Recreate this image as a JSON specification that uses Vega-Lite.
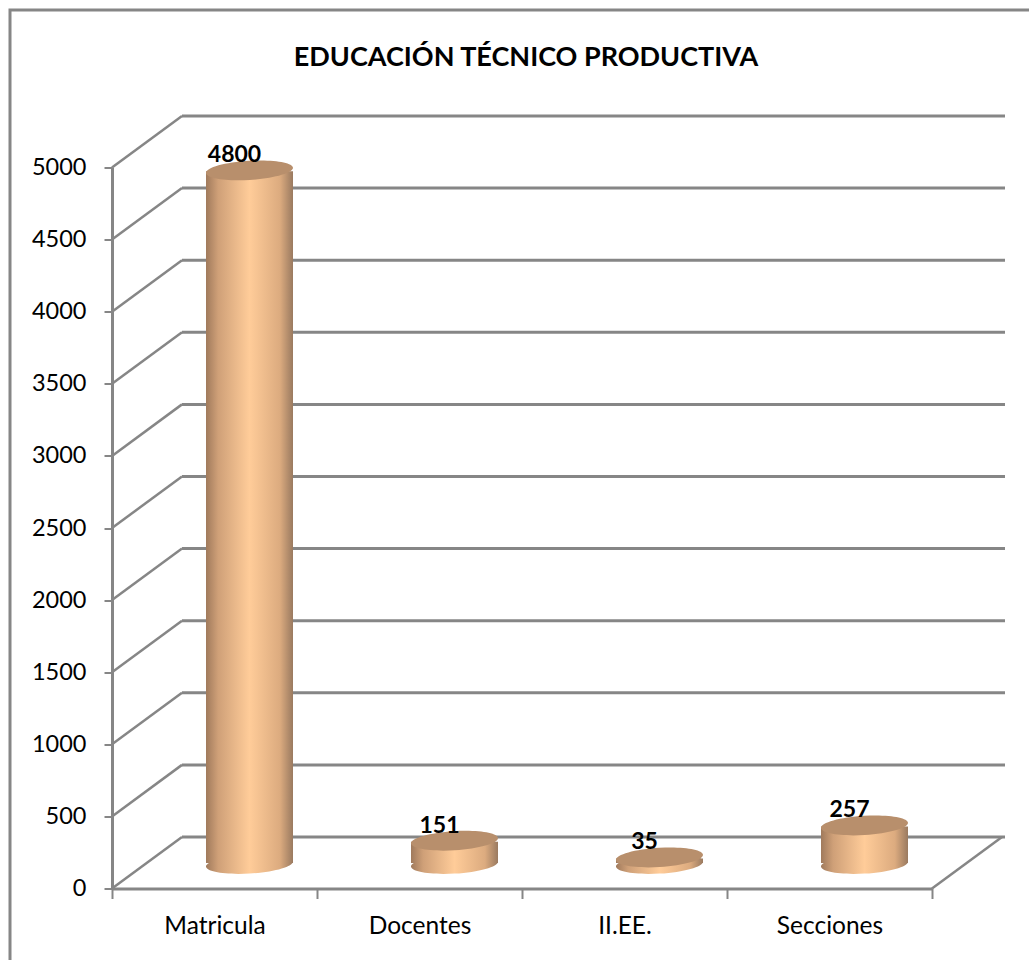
{
"$schema":"https://vega.github.io/schema/vega-lite/v6.json",
"width":820,"height":721,
"autosize":{"type":"none"},
"padding":{"left":112,"right":97,"top":167.5,"bottom":71.5},
"background":"#ffffff",
"view":{"stroke":null},
"title":{"text":"EDUCACIÓN TÉCNICO PRODUCTIVA","font":"Lato","fontSize":27,"fontWeight":"bold","color":"#000000","anchor":"middle","offset":-68,"dx":4},
"datasets":{
"categorias":[{"categoria":"Matricula","valor":4800},{"categoria":"Docentes","valor":151},{"categoria":"II.EE.","valor":35},{"categoria":"Secciones","valor":257}],
"marcas":[{"marca":0},{"marca":500},{"marca":1000},{"marca":1500},{"marca":2000},{"marca":2500},{"marca":3000},{"marca":3500},{"marca":4000},{"marca":4500},{"marca":5000}]
},
"layer":[
{"data":{"name":"marcas"},"mark":{"type":"rule","color":"#868686","strokeWidth":3,"xOffset":70,"x2Offset":73,"yOffset":-51.5},
 "encoding":{
  "x":{"datum":"Matricula","bandPosition":0,"type":"nominal","scale":{"domain":["Matricula","Docentes","II.EE.","Secciones"],"paddingInner":0,"paddingOuter":0},
   "axis":{"title":null,"labelAngle":0,"tickBand":"extent","labelFont":"Lato","labelFontSize":24.5,"labelColor":"#000000","labelPadding":16,"tickSize":10,"tickColor":"#868686","tickWidth":2,"domainColor":"#868686","domainWidth":3,"grid":false}},
  "x2":{"datum":"Secciones","bandPosition":1},
  "y":{"field":"marca","type":"quantitative","scale":{"domain":[0,5000],"nice":false},
   "axis":{"title":null,"values":[0,500,1000,1500,2000,2500,3000,3500,4000,4500,5000],"labelFont":"Lato","labelFontSize":23.5,"labelColor":"#000000","labelPadding":18,"tickSize":8,"tickColor":"#868686","tickWidth":2,"domainColor":"#868686","domainWidth":3,"grid":false,"format":"d"}}
 }},
{"data":{"name":"marcas"},"mark":{"type":"point","filled":false,"opacity":1,"stroke":"#868686","strokeWidth":2.5,"shape":"M0,0L1,-0.736","size":19600},
 "encoding":{
  "x":{"datum":"Matricula","bandPosition":0,"type":"nominal"},
  "y":{"field":"marca","type":"quantitative"}
 }},
{"data":{"values":[{"marca":0}]},"mark":{"type":"point","filled":false,"opacity":1,"stroke":"#868686","strokeWidth":2.5,"shape":"M0,0L1,-0.736","size":19600},
 "encoding":{
  "x":{"datum":"Secciones","bandPosition":1,"type":"nominal"},
  "y":{"field":"marca","type":"quantitative"}
 }},
{"data":{"values":[{"marca":5000}]},"mark":{"type":"point","filled":false,"opacity":1,"stroke":"#868686","strokeWidth":3,"shape":"M1000,-157.5L-102,-157.5L-102,900","size":4},
 "encoding":{
  "x":{"datum":"Matricula","bandPosition":0,"type":"nominal"},
  "y":{"field":"marca","type":"quantitative"}
 }},
{"data":{"name":"categorias"},"mark":{"type":"point","filled":true,"opacity":1,"shape":"M-1,0.06A1,0.22,-3.5,1,0,1,-0.06A1,0.22,-3.5,1,0,-1,0.06Z","size":7569,"xOffset":35,"yOffset":-24.5,
  "fill":{"gradient":"linear","x1":0,"y1":0,"x2":1,"y2":0,"stops":[{"offset":0,"color":"#a07a5c"},{"offset":0.14,"color":"#cfa078"},{"offset":0.5,"color":"#ffcc99"},{"offset":0.85,"color":"#dcab7f"},{"offset":1,"color":"#9a7a60"}]}},
 "encoding":{
  "x":{"field":"categoria","type":"nominal"},
  "y":{"datum":0,"type":"quantitative"}
 }},
{"data":{"name":"categorias"},"mark":{"type":"bar","size":87,"xOffset":35,"yOffset":-25,"y2Offset":-25.5,
  "fill":{"gradient":"linear","x1":0,"y1":0,"x2":1,"y2":0,"stops":[{"offset":0,"color":"#a07a5c"},{"offset":0.14,"color":"#cfa078"},{"offset":0.5,"color":"#ffcc99"},{"offset":0.85,"color":"#dcab7f"},{"offset":1,"color":"#9a7a60"}]}},
 "encoding":{
  "x":{"field":"categoria","type":"nominal"},
  "y":{"field":"valor","type":"quantitative"},
  "y2":{"datum":0}
 }},
{"data":{"name":"categorias"},"mark":{"type":"point","filled":true,"opacity":1,"shape":"M-1,0.06A1,0.22,-3.5,1,0,1,-0.06A1,0.22,-3.5,1,0,-1,0.06Z","size":7569,"xOffset":35,"yOffset":-26,"fill":"#b88f6c"},
 "encoding":{
  "x":{"field":"categoria","type":"nominal"},
  "y":{"field":"valor","type":"quantitative"}
 }},
{"data":{"name":"categorias"},"mark":{"type":"text","font":"Lato","fontSize":23,"fontWeight":"bold","color":"#000000","baseline":"middle","align":"center","dx":20,"dy":-41},
 "encoding":{
  "x":{"field":"categoria","type":"nominal"},
  "y":{"field":"valor","type":"quantitative"},
  "text":{"field":"valor","type":"quantitative"}
 }}
]
}
